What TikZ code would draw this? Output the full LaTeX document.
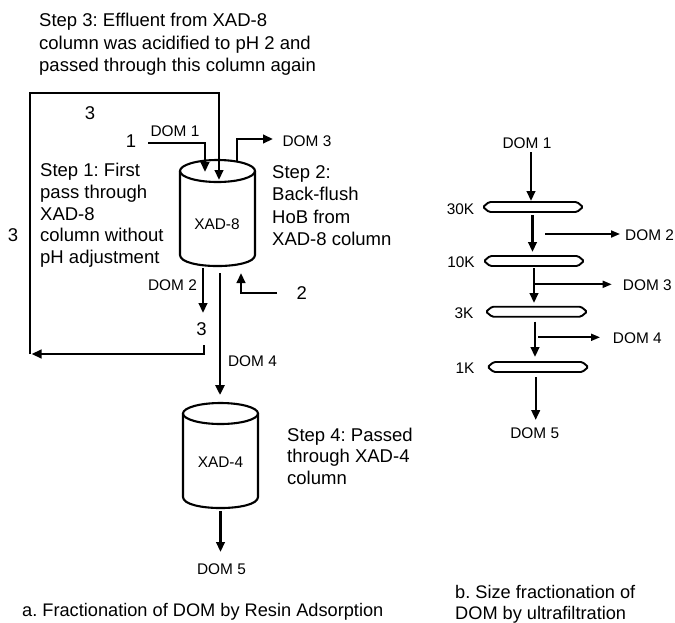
\documentclass[tikz,border=0pt]{standalone}
\usepackage{fontspec}
\setmainfont{Liberation Sans}
\usetikzlibrary{arrows.meta}
\frenchspacing
\begin{document}
\begin{tikzpicture}[x=1pt,y=-1pt,
  steptext/.style={font=\fontsize{18.5}{22.3}\selectfont, align=left, anchor=north west, inner sep=0pt},
  captext/.style={font=\fontsize{18.2}{21}\selectfont, align=left, anchor=north west, inner sep=0pt},
  lbl/.style={font=\fontsize{15.4}{18}\selectfont, inner sep=0pt},
  num/.style={font=\fontsize{18.5}{22}\selectfont, inner sep=0pt},
  flow/.style={line width=2.4pt, line join=miter, -{Triangle[length=10pt,width=8.5pt]}},
  bigflow/.style={line width=2.8pt, -{Triangle[length=10pt,width=9pt]}},
  thinflow/.style={line width=1.8pt, -{Triangle[length=9pt,width=7pt]}},
  cyl/.style={line width=2.1pt},
  membrane/.style={line width=1.9pt, rounded corners=1.5pt}]
\useasboundingbox (0,0) rectangle (675,622);

% ---------- texts ----------
\node[steptext] (step3) at (39,13.2) {Step 3: Effluent from XAD-8\\column was acidified to pH 2 and\\passed through this column again};
\node[steptext, font=\fontsize{18.5}{21.7}\selectfont] (step1) at (40,163.2) {Step 1: First\\pass through\\XAD-8\\column without\\pH adjustment};
\node[steptext] (step2) at (272,165.5) {Step 2:\\Back-flush\\HoB from\\XAD-8 column};
\node[steptext, font=\fontsize{18.5}{21.5}\selectfont] (step4) at (287,427.5) {Step 4: Passed\\through XAD-4\\column};
\node[captext] (capa) at (22,603.5) {a. Fractionation of DOM by Resin Adsorption};
\node[captext] (capb) at (455,585) {b. Size fractionation of\\DOM by ultrafiltration};

% ---------- XAD-8 column ----------
\draw[cyl] (217.5,171) ellipse [x radius=37.5, y radius=11];
\draw[cyl] (180,171) -- (180,255) .. controls (180,269.7) and (255,269.7) .. (255,255) -- (255,171);
\node[lbl] (xad8) at (217,224) {XAD-8};

% ---------- XAD-4 column ----------
\draw[cyl] (220.5,413.5) ellipse [x radius=37.5, y radius=10.5];
\draw[cyl] (183,413.5) -- (183,497) .. controls (183,511.7) and (258,511.7) .. (258,497) -- (258,413.5);
\node[lbl] (xad4) at (220.5,462.5) {XAD-4};

% ---------- labels ----------
\node[num] (n3a) at (90,113) {3};
\node[num] (n3b) at (13,235) {3};
\node[num] (n1) at (131,141) {1};
\node[num] (n2) at (301.7,293.3) {2};
\node[num] (n3c) at (201.5,329) {3};
\node[lbl] (dom1a) at (175,131) {DOM 1};
\node[lbl] (dom3a) at (307,141) {DOM 3};
\node[lbl] (dom2a) at (172.5,285) {DOM 2};
\node[lbl] (dom4a) at (252.5,361) {DOM 4};
\node[lbl] (dom5a) at (221.5,569) {DOM 5};

% ---------- coordinates for connectors ----------
\coordinate (loopBL) at (30,354);
\coordinate (loopTR) at (219,93);
\coordinate (in3) at (219,180);
\coordinate (in1s) at (148,143);
\coordinate (in1c) at (205,143);
\coordinate (in1) at (205,172);
\coordinate (out3s) at (237,161);
\coordinate (out3c) at (237,139);
\coordinate (out3) at (273,139);
\coordinate (in2s) at (277,293);
\coordinate (in2c) at (241,293);
\coordinate (in2) at (241,273);
\coordinate (out2s) at (203,268);
\coordinate (out2) at (203,313);
\coordinate (ret3s) at (204,345);
\coordinate (ret3c) at (204,354);
\coordinate (ret3) at (31.5,354);
\coordinate (out4s) at (220,273);
\coordinate (out4) at (220,395);
\coordinate (out5s) at (220.5,511);
\coordinate (out5) at (220.5,552);

\draw[flow] (loopBL) |- (loopTR) -- (in3);
\draw[flow] (in1s) -- (in1c) -- (in1);
\draw[flow] (out3s) -- (out3c) -- (out3);
\draw[flow] (in2s) -- (in2c) -- (in2);
\draw[flow] (out2s) -- (out2);
\draw[flow] (ret3s) -- (ret3c) -- (ret3);
\draw[bigflow] (out4s) -- (out4);
\draw[flow] (out5s) -- (out5);

% ---------- ultrafiltration ----------
\newcommand{\memb}[3]{% left x, right x, centre y
  \draw[membrane] (#1,#3) -- (#1+6,#3-5) -- (#2-6,#3-5) -- (#2,#3) -- (#2-6,#3+5) -- (#1+6,#3+5) -- cycle;}
\memb{483}{583}{207}
\memb{484}{584}{261}
\memb{486}{587}{311.7}
\memb{487.7}{588.3}{367}

\node[lbl] (rdom1) at (527,143) {DOM 1};
\node[lbl] (k30) at (460.5,209.5) {30K};
\node[lbl] (k10) at (461,262.5) {10K};
\node[lbl] (k3) at (464,313) {3K};
\node[lbl] (k1) at (465,368) {1K};
\node[lbl, anchor=west] (rdom2) at (625,235) {DOM 2};
\node[lbl, anchor=west] (rdom3) at (622.7,285) {DOM 3};
\node[lbl, anchor=west] (rdom4) at (612.7,338.5) {DOM 4};
\node[lbl] (rdom5) at (534.7,433.5) {DOM 5};

\coordinate (a1s) at (531,152);   \coordinate (a1) at (531,201);
\coordinate (a2s) at (532.5,215); \coordinate (a2) at (532.5,252);
\coordinate (a3s) at (534,268);   \coordinate (a3) at (534,303);
\coordinate (a4s) at (535,321.7); \coordinate (a4) at (535,357);
\coordinate (a5s) at (535.7,377.3); \coordinate (a5) at (535.7,420);
\coordinate (b2s) at (545,234);   \coordinate (b2) at (620,234);
\coordinate (b3s) at (534,284.3); \coordinate (b3) at (611.7,284.3);
\coordinate (b4s) at (538.3,337.3); \coordinate (b4) at (600,337.3);

\draw[flow] (a1s) -- (a1);
\draw[flow] (a2s) -- (a2);
\draw[flow] (a3s) -- (a3);
\draw[flow] (a4s) -- (a4);
\draw[flow] (a5s) -- (a5);
\draw[thinflow] (b2s) -- (b2);
\draw[thinflow] (b3s) -- (b3);
\draw[thinflow] (b4s) -- (b4);
\end{tikzpicture}
\end{document}
